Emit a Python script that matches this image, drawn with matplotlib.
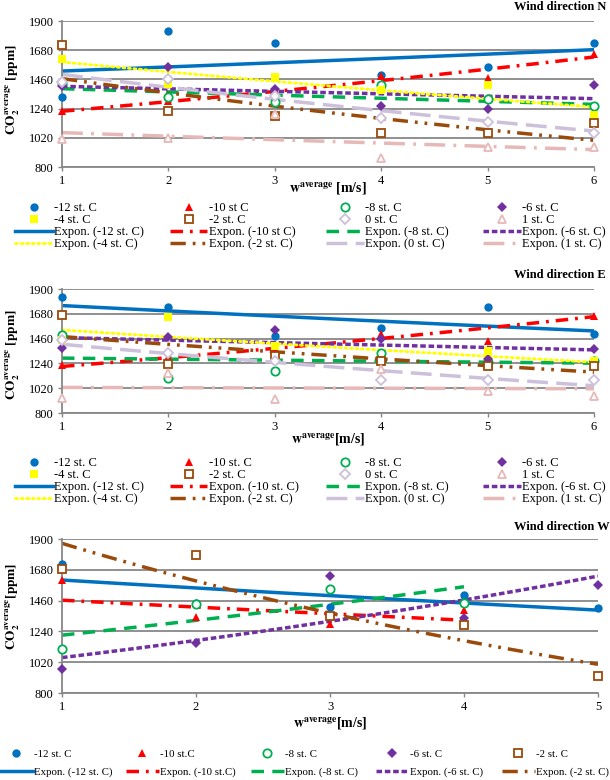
import numpy as np
import matplotlib
matplotlib.use('Agg')
import matplotlib.pyplot as plt

plt.rcParams['font.family'] = ['Liberation Serif', 'DejaVu Serif']
plt.rcParams['mathtext.fontset'] = 'stix'
plt.rcParams['lines.scale_dashes'] = False

# ---- data ----
# wind direction N
N_X = [1, 2, 3, 4, 5, 6]
N_M12 = [1327, 1822, 1734, 1491, 1553, 1737]
N_M10 = [1222, 1297, 1380, 1483, 1473, 1649]
N_M8 = [1435, 1327, 1290, 1415, 1310, 1257]
N_M6 = [1410, 1553, 1390, 1257, 1235, 1415]
N_M4 = [1616, 1428, 1478, 1378, 1415, 1189]
N_M2 = [1722, 1220, 1182, 1056, 1056, 1132]
N_0 = [1440, 1461, 1333, 1169, 1139, 1059]
N_1 = [1014, 1019, 1200, 870, 951, 951]
# exponential trend line values at first / last x
N_TREND_START = [1523, 1220, 1390, 1408, 1591, 1466, 1498, 1059]
N_TREND_END = [1684, 1629, 1272, 1315, 1252, 1001, 1071, 931]
N_LABELS = ['-12 st. C', '-10 st C', '-8 st. C', '-6 st. C',
            '-4 st. C', '-2 st. C', '0 st. C', '1 st. C']

# wind direction E
E_X = [1, 2, 3, 4, 5, 6]
E_M12 = [1826, 1744, 1487, 1558, 1744, 1502]
E_M10 = [1222, 1300, 1370, 1499, 1440, 1661]
E_M8 = [1493, 1110, 1169, 1331, 1250, 1257]
E_M6 = [1381, 1478, 1537, 1458, 1281, 1366]
E_M4 = [1449, 1655, 1390, 1251, 1346, 1263]
E_M2 = [1670, 1236, 1307, 1257, 1219, 1219]
E_0 = [1449, 1331, 1257, 1095, 1095, 1095]
E_1 = [933, 1154, 927, 1192, 992, 947]
E_TREND_START = [1753, 1213, 1287, 1469, 1537, 1478, 1410, 1027]
E_TREND_END = [1528, 1655, 1242, 1360, 1251, 1163, 1042, 1015]
E_LABELS = ['-12 st. C', '-10 st. C', '-8 st. C', '-6 st. C',
            '-4 st. C', '-2 st. C', '0 st. C', '1 st. C']

# wind direction W
W_M12_X = [1, 2, 3, 4, 5]
W_M12 = [1719, 1444, 1416, 1499, 1404]
W_M10_X = [1, 2, 3, 4]
W_M10 = [1607, 1344, 1292, 1392]
W_M8_X = [1, 2, 3, 4]
W_M8 = [1117, 1435, 1542, 1440]
W_M6_X = [1, 2, 3, 4, 5]
W_M6 = [969, 1160, 1635, 1339, 1571]
W_M2_X = [1, 2, 3, 4, 5]
W_M2 = [1685, 1785, 1351, 1289, 922]
W_TREND_START = [1607, 1463, 1213, 1053, 1869]
W_TREND_END = [1392, 1320, 1559, 1635, 1005]
W_LABELS = ['-12 st. C', '-10 st.C', '-8 st. C', '-6 st. C', '-2 st. C']

Y_TICKS = [800, 1020, 1240, 1460, 1680, 1900]

# ---- styles per temperature ----
STYLE = {
    '-12': dict(color='#0070C0', marker='o', fill=True, ls='-'),
    '-10': dict(color='#FF0000', marker='^', fill=True, ls=(0, (9, 5, 2, 5))),
    '-8': dict(color='#00B050', marker='o', fill=False, ls=(0, (9, 6))),
    '-6': dict(color='#7030A0', marker='D', fill=True, ls=(0, (4, 2))),
    '-4': dict(color='#FFFF00', marker='s', fill=True, ls=(0, (1.5, 2.5))),
    '-2': dict(color='#9A4A0A', marker='s', fill=False, ls=(0, (11, 5, 2, 5, 2, 5))),
    '0': dict(color='#CCC0DA', marker='D', fill=False, ls=(0, (15, 6))),
    '1': dict(color='#E6B9B8', marker='^', fill=False, ls=(0, (15, 6, 2, 6))),
}
GRID = '#878787'


def marker_kw(key):
    s = STYLE[key]
    ms = 6 if s['marker'] != 'D' else 5
    kw = dict(marker=s['marker'], markersize=ms, linestyle='none', color=s['color'])
    if not s['fill']:
        kw.update(markerfacecolor='white', markeredgewidth=1.3)
    else:
        kw.update(markeredgewidth=0)
    return kw


def trend_kw(key):
    s = STYLE[key]
    lw = 2.0 if key == '-4' else 2.5
    return dict(color=s['color'], linestyle=s['ls'], linewidth=lw,
                dash_capstyle='butt' if key != '-4' else 'round')


def exp_trend(x0, x1, y0, y1):
    xs = np.linspace(x0, x1, 60)
    ys = y0 * (y1 / y0) ** ((xs - x0) / (x1 - x0))
    return xs, ys


def setup_axes(ax, xmax, title, xlabel, ylabel, xlab_y, ylab_pos, title_y):
    ax.set_xlim(1, xmax)
    ax.set_ylim(800, 1900)
    ax.set_yticks(Y_TICKS)
    ax.set_xticks(range(1, xmax + 1))
    ax.yaxis.grid(True, color=GRID, linewidth=1.3)
    ax.set_axisbelow(True)
    for side in ['top', 'right']:
        ax.spines[side].set_visible(False)
    for side in ['left', 'bottom']:
        ax.spines[side].set_color(GRID)
        ax.spines[side].set_linewidth(1.3)
    ax.tick_params(axis='both', colors='black', labelsize=9, length=3,
                   width=1, color=GRID, pad=3)
    ax.set_xlabel(xlabel, fontsize=10, fontweight='bold')
    ax.set_ylabel(ylabel, fontsize=9.5, fontweight='bold')
    ax.xaxis.set_label_coords(0.5, xlab_y)
    ax.yaxis.set_label_coords(-0.075, ylab_pos)
    ax.text(1.0 + 12 / 532, title_y, title, transform=ax.transAxes,
            ha='right', va='center', fontsize=9, fontweight='bold')


def col_legend(fig, handles, labels, x_px, y_px, spacing, size=9, hlen=3.0):
    fig.legend(handles, labels, loc='upper left',
               bbox_to_anchor=(x_px / 610, 1 - y_px / 780),
               frameon=False, borderpad=0, borderaxespad=0, fontsize=size,
               handlelength=hlen, handletextpad=0.15, labelspacing=spacing)


fig = plt.figure(figsize=(6.1, 7.8), dpi=100)

KEYS8 = ['-12', '-10', '-8', '-6', '-4', '-2', '0', '1']
KEYS5 = ['-12', '-10', '-8', '-6', '-2']

# ---- N and E panels ----
panels = [
    (N_X, [N_M12, N_M10, N_M8, N_M6, N_M4, N_M2, N_0, N_1], N_TREND_START, N_TREND_END,
     N_LABELS, [62, 21, 594, 167], 'Wind direction N',
     r'$\mathbf{w^{average}}$ [m/s]', -0.09, 0.53, 1.095, 202),
    (E_X, [E_M12, E_M10, E_M8, E_M6, E_M4, E_M2, E_0, E_1], E_TREND_START, E_TREND_END,
     E_LABELS, [62, 289, 594, 413], 'Wind direction E',
     r'$\mathbf{w^{average}}$[m/s]', -0.15, 0.47, 1.11, 457),
]
for xs, ys_list, t0, t1, labels, box, title, xlab, xly, ylp, tty, leg_y in panels:
    l, t, r, b = box
    ax = fig.add_axes([l / 610, 1 - b / 780, (r - l) / 610, (b - t) / 780])
    mh, th = [], []
    for key, ys, y0, y1 in zip(KEYS8, ys_list, t0, t1):
        h, = ax.plot(xs, ys, clip_on=False, zorder=3, **marker_kw(key))
        tx, ty = exp_trend(xs[0], xs[-1], y0, y1)
        g, = ax.plot(tx, ty, zorder=2, **trend_kw(key))
        mh.append(h)
        th.append(g)
    setup_axes(ax, 6, title, xlab, r'$\mathbf{CO_2^{average}}$ [ppm]', xly, ylp, tty)
    for c, xpx in enumerate([15, 170, 326, 483]):
        hs = [mh[c], mh[c + 4], th[c], th[c + 4]]
        ls = [labels[c], labels[c + 4],
              'Expon. (' + labels[c] + ')', 'Expon. (' + labels[c + 4] + ')']
        col_legend(fig, hs, ls, xpx, leg_y, 0.0)

# ---- W panel ----
l, t, r, b = 62, 539, 598, 693
ax = fig.add_axes([l / 610, 1 - b / 780, (r - l) / 610, (b - t) / 780])
w_x = [W_M12_X, W_M10_X, W_M8_X, W_M6_X, W_M2_X]
w_y = [W_M12, W_M10, W_M8, W_M6, W_M2]
mh, th = [], []
for key, xs, ys, y0, y1 in zip(KEYS5, w_x, w_y, W_TREND_START, W_TREND_END):
    h, = ax.plot(xs, ys, clip_on=False, zorder=3, **marker_kw(key))
    tx, ty = exp_trend(xs[0], xs[-1], y0, y1)
    g, = ax.plot(tx, ty, zorder=2, **trend_kw(key))
    mh.append(h)
    th.append(g)
setup_axes(ax, 5, 'Wind direction W', r'$\mathbf{w^{average}}$[m/s]',
           r'$\mathbf{CO_2^{average}}$[ppm]', -0.145, 0.565, 1.08)
for c, xpx in enumerate([0, 126, 251, 376, 502]):
    col_legend(fig, [mh[c], th[c]], [W_LABELS[c], 'Expon. (' + W_LABELS[c] + ')'],
               xpx, 749, 0.75, size=7.8, hlen=3.0)

fig.savefig('out.png', dpi=100)
